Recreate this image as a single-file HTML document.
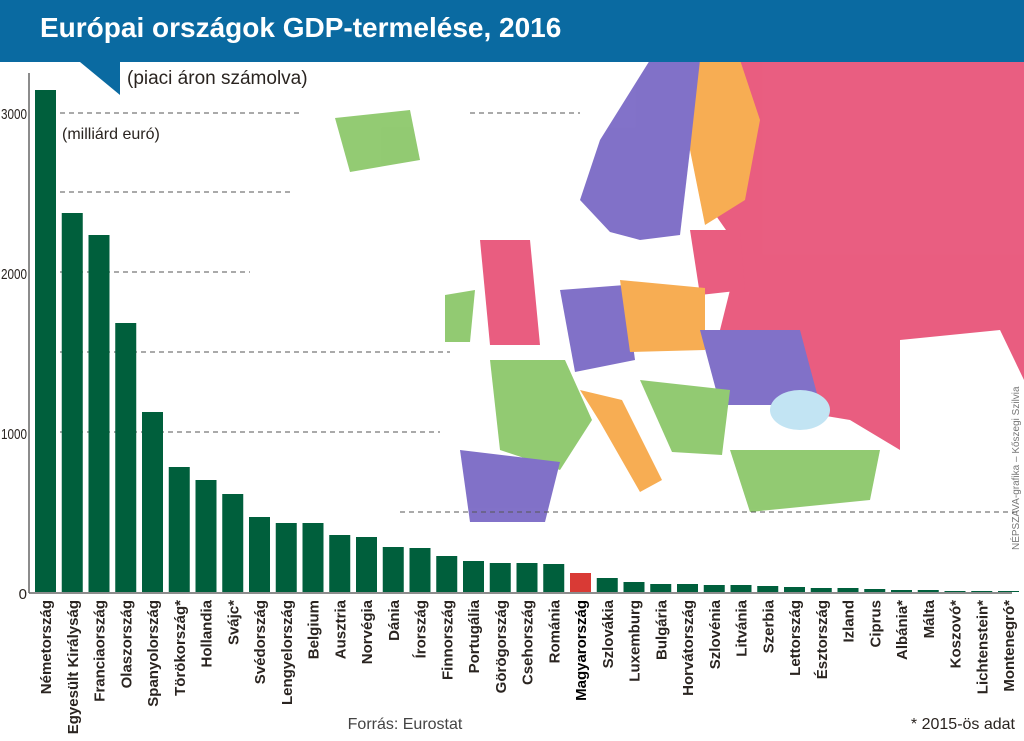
<!DOCTYPE html>
<html><head><meta charset="utf-8"><style>
body{margin:0;background:#fff;}
svg{display:block;font-family:"Liberation Sans",sans-serif;}
.l{font-weight:bold;font-size:15px;fill:#2a2420;}
</style></head><body>
<svg width="1024" height="741" viewBox="0 0 1024 741">
<rect width="1024" height="741" fill="#fff"/>
<g opacity="0.95">
<polygon points="740,60 800,30 1024,30 1024,470 960,420 900,450 850,420 790,410 760,360 720,330 740,250 705,200 730,120" fill="#e8557a"/>
<polygon points="690,60 740,60 760,120 745,200 705,225 690,150" fill="#f7a94a"/>
<polygon points="600,140 650,60 700,60 690,150 680,235 640,240 610,232 580,200" fill="#7b6ac6"/>
<polygon points="690,230 740,230 745,290 700,295" fill="#e8557a"/>
<polygon points="560,290 625,285 635,360 575,372" fill="#7b6ac6"/>
<polygon points="620,280 705,288 705,350 630,352" fill="#f7a94a"/>
<polygon points="700,330 800,330 820,405 720,405" fill="#7b6ac6"/>
<polygon points="490,360 565,360 592,420 560,470 500,450" fill="#8dc86b"/>
<polygon points="460,450 560,462 545,522 470,522" fill="#7b6ac6"/>
<polygon points="580,390 622,400 662,480 640,492 600,422" fill="#f7a94a"/>
<polygon points="640,380 730,390 722,455 672,452" fill="#8dc86b"/>
<polygon points="730,450 880,450 870,500 750,512" fill="#8dc86b"/>
<polygon points="480,240 530,240 540,345 490,345" fill="#e8557a"/>
<polygon points="445,295 475,290 470,342 445,342" fill="#8dc86b"/>
<polygon points="335,118 410,110 420,160 350,172" fill="#8dc86b"/>
<polygon points="900,340 1000,330 1024,380 1024,520 960,520 900,450" fill="#fff"/>
<ellipse cx="800" cy="410" rx="30" ry="20" fill="#bfe3f3"/>
</g>
<g stroke="#555" stroke-width="1" stroke-dasharray="5,4">
<line x1="60" y1="113" x2="300" y2="113"/><line x1="470" y1="113" x2="580" y2="113"/>
<line x1="60" y1="192" x2="290" y2="192"/>
<line x1="60" y1="272" x2="250" y2="272"/>
<line x1="60" y1="352" x2="450" y2="352"/>
<line x1="60" y1="432" x2="440" y2="432"/>
<line x1="400" y1="512" x2="1020" y2="512"/>
</g>
<rect x="0" y="0" width="1024" height="62" fill="#0a6aa1"/>
<polygon points="80,62 120,62 120,95" fill="#0a6aa1"/>
<text x="40" y="37" fill="#fff" font-size="28" font-weight="bold">Európai országok GDP-termelése, 2016</text>
<text x="127" y="84" font-size="19" fill="#2a2420">(piaci áron számolva)</text>
<text x="62" y="139" font-size="16" fill="#2a2420">(milliárd euró)</text>
<line x1="29" y1="73" x2="29" y2="593" stroke="#666" stroke-width="1.5"/>
<line x1="29" y1="593" x2="1012" y2="593" stroke="#666" stroke-width="1.5"/>
<g font-size="15" fill="#2a2420" text-anchor="end">
<text x="27" y="119" textLength="26" lengthAdjust="spacingAndGlyphs">3000</text>
<text x="27" y="279" textLength="26" lengthAdjust="spacingAndGlyphs">2000</text>
<text x="27" y="439" textLength="26" lengthAdjust="spacingAndGlyphs">1000</text>
<text x="27" y="599">0</text>
</g>
<g fill="#005f3c" id="bars"></g>
<g id="labels"></g>
<text x="405" y="729" font-size="16" fill="#444" text-anchor="middle">Forrás: Eurostat</text>
<text x="1015" y="729" font-size="16" fill="#2a2420" text-anchor="end">* 2015-ös adat</text>
<text transform="translate(1019,550) rotate(-90)" font-size="10" fill="#777">NÉPSZAVA-grafika – Kőszegi Szilvia</text>
<script>
var d=[["Németország",90],["Egyesült Királyság",213],["Franciaország",235],["Olaszország",323],["Spanyolország",412],["Törökország*",467],["Hollandia",480],["Svájc*",494],["Svédország",517],["Lengyelország",523],["Belgium",523],["Ausztria",535],["Norvégia",537],["Dánia",547],["Írország",548],["Finnország",556],["Portugália",561],["Görögország",563],["Csehország",563],["Románia",564],["Magyarország",573],["Szlovákia",578],["Luxemburg",582],["Bulgária",584],["Horvátország",584],["Szlovénia",585],["Litvánia",585],["Szerbia",586],["Lettország",587],["Észtország",588],["Izland",588],["Ciprus",589],["Albánia*",590],["Málta",590],["Koszovó*",591],["Lichtenstein*",591],["Montenegró*",591]];
var ns="http://www.w3.org/2000/svg",b=document.getElementById("bars"),l=document.getElementById("labels");
d.forEach(function(e,i){var x=35+i*26.75;var r=document.createElementNS(ns,"rect");r.setAttribute("x",x);r.setAttribute("y",e[1]);r.setAttribute("width",21);r.setAttribute("height",592-e[1]);if(i==20)r.setAttribute("fill","#d93a35");b.appendChild(r);
var t=document.createElementNS(ns,"text");t.setAttribute("class","l");t.setAttribute("text-anchor","end");t.setAttribute("transform","translate("+(x+16)+",600) rotate(-90)");t.textContent=e[0];if(i==20){t.setAttribute("style","fill:#000");}l.appendChild(t);});
</script>
</svg>
</body></html>
